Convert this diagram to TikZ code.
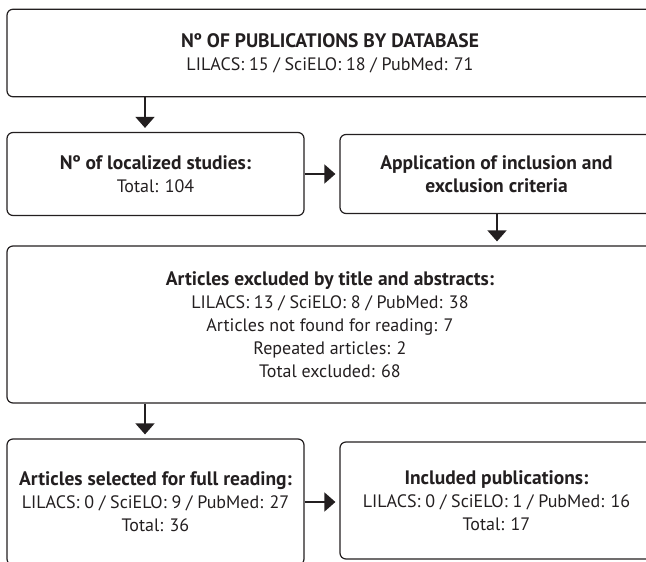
\documentclass[tikz,border=0pt]{standalone}
\usepackage{fontspec}
\setmainfont{PT Sans}
\usetikzlibrary{arrows.meta}
\definecolor{ink}{HTML}{231F20}
\newcommand{\hd}[1]{{\fontsize{19.5}{23}\selectfont\bfseries #1}}
\tikzset{
  stage/.style={draw=ink, line width=1.2pt, rounded corners=6pt, align=center,
    text=ink, inner sep=0pt, font=\fontsize{18}{23}\selectfont},
  flow/.style={draw=ink, line width=1.6pt, -{Triangle[width=19pt,length=11pt]},
    shorten >=4pt}
}
\begin{document}
\begin{tikzpicture}[x=1pt,y=-1pt]
\useasboundingbox (0,0) rectangle (646,562);

% columns of the vertical arrows
\coordinate (lx) at (145,0);
\coordinate (rx) at (497,0);

% boxes
\node[stage, minimum width=646pt, minimum height=87.5pt] (db) at (330,53)
  {\hd{Nº OF PUBLICATIONS BY DATABASE}\\LILACS: 15 / SciELO: 18 / PubMed: 71};
\node[stage, minimum width=297pt, minimum height=83pt] (loc) at (155.5,174)
  {\hd{Nº of localized studies:}\\Total: 104};
\node[stage, minimum width=313pt, minimum height=79pt] (crit) at (496.5,174)
  {\hd{Application of inclusion and}\\\hd{exclusion criteria}};
\node[stage, minimum width=646pt, minimum height=157pt] (excl) at (330,324.5)
  {\hd{Articles excluded by title and abstracts:}\\LILACS: 13 / SciELO: 8 / PubMed: 38\\
   Articles not found for reading: 7\\Repeated articles: 2\\Total excluded: 68};
\node[stage, minimum width=297pt, minimum height=126pt] (full) at (155.5,502)
  {\hd{Articles selected for full reading:}\\LILACS: 0 / SciELO: 9 / PubMed: 27\\Total: 36};
\node[stage, minimum width=313pt, minimum height=117pt] (incl) at (496.5,500.5)
  {\hd{Included publications:}\\LILACS: 0 / SciELO: 1 / PubMed: 16\\Total: 17};

% arrows
\draw[flow] (db.south -| lx) -- (loc.north -| lx);
\draw[flow] (loc.east) -- (loc.east -| crit.west);
\draw[flow] (crit.south -| rx) -- (excl.north -| rx);
\draw[flow] (excl.south -| lx) -- (full.north -| lx);
\draw[flow] (full.east) -- (full.east -| incl.west);
\end{tikzpicture}
\end{document}
